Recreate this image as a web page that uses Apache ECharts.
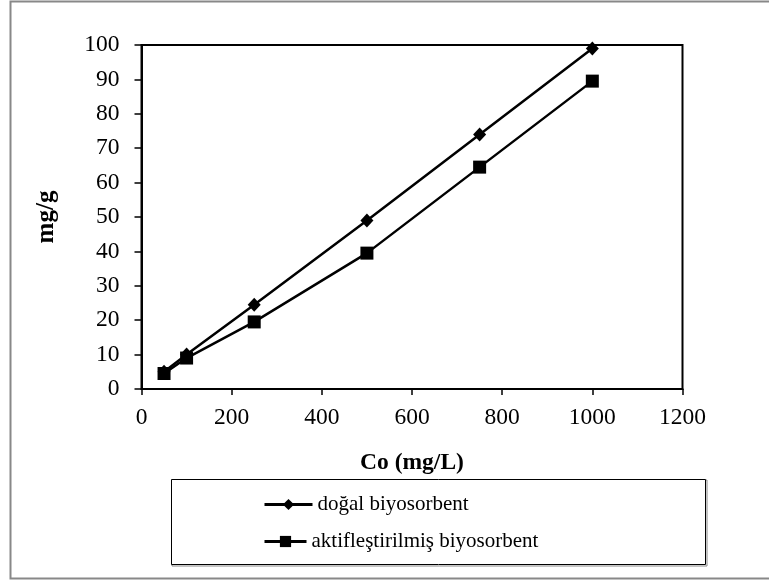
<!DOCTYPE html>
<html>
<head>
<meta charset="utf-8">
<script src="https://cdn.jsdelivr.net/npm/echarts@6/dist/echarts.min.js"></script>
<style>
  html, body { margin: 0; padding: 0; background: #fff; }
  #chart { width: 769px; height: 583px; }
</style>
</head>
<body>
<div id="chart"></div>
<script>
// Co (mg/L) on x, adsorbed amount mg/g on y
const coValues = [50, 100, 250, 500, 750, 1000];
const dogalValues = [5, 10, 24.5, 49, 74, 99];
const aktifValues = [4.5, 9, 19.5, 39.5, 64.5, 89.5];
const seriesNames = ['doğal biyosorbent', 'aktifleştirilmiş biyosorbent'];
const xTicks = { min: 0, max: 1200, step: 200 };
const yTicks = { min: 0, max: 100, step: 10 };

const FONT = '"Liberation Serif", "Times New Roman", serif';

const chart = echarts.init(document.getElementById('chart'));

const toPairs = (ys) => coValues.map((x, i) => [x, ys[i]]);

const option = {
  animation: false,
  backgroundColor: '#fff',
  textStyle: { fontFamily: FONT, color: '#000' },
  grid: {
    left: 141.5,
    right: 86.5,
    top: 45,
    bottom: 194,
    show: true,
    borderColor: '#000',
    borderWidth: 2,
    containLabel: false,
  },
  xAxis: {
    type: 'value',
    min: xTicks.min,
    max: xTicks.max,
    interval: xTicks.step,
    name: 'Co (mg/L)',
    nameLocation: 'middle',
    nameGap: 62,
    nameTextStyle: { fontFamily: FONT, fontWeight: 'bold', fontSize: 23.5, color: '#000' },
    axisLine: { show: true, lineStyle: { color: '#000', width: 2 } },
    axisTick: { show: true, inside: false, length: 6, lineStyle: { color: '#000', width: 1.5 } },
    axisLabel: { fontFamily: FONT, fontSize: 23.5, color: '#000', margin: 17, formatter: (v) => String(v) },
    splitLine: { show: false },
  },
  yAxis: {
    type: 'value',
    min: yTicks.min,
    max: yTicks.max,
    interval: yTicks.step,
    name: 'mg/g',
    nameLocation: 'middle',
    nameGap: 82,
    nameRotate: 90,
    nameTextStyle: { fontFamily: FONT, fontWeight: 'bold', fontSize: 25, color: '#000' },
    axisLine: { show: true, lineStyle: { color: '#000', width: 2 } },
    axisTick: { show: true, inside: false, length: 7, lineStyle: { color: '#000', width: 1.5 } },
    axisLabel: { fontFamily: FONT, fontSize: 23.5, color: '#000', margin: 22, formatter: (v) => String(v) },
    splitLine: { show: false },
  },
  legend: [
    {
      data: [seriesNames[0]],
      left: 258,
      top: 489,
      itemWidth: 48,
      itemHeight: 14,
      lineStyle: { width: 3 },
      textStyle: { fontFamily: FONT, fontSize: 21, color: '#000' },
      inactiveColor: '#000',
    },
    {
      data: [seriesNames[1]],
      left: 258,
      top: 526,
      itemWidth: 42,
      itemHeight: 14,
      lineStyle: { width: 3 },
      textStyle: { fontFamily: FONT, fontSize: 21, color: '#000' },
      inactiveColor: '#000',
    },
  ],
  graphic: [
    {
      type: 'rect',
      shape: { x: 10.5, y: 1.5, width: 800, height: 577 },
      style: { fill: 'none', stroke: '#888', lineWidth: 2 },
      z: -1,
    },
    {
      type: 'rect',
      shape: { x: 172, y: 480, width: 535, height: 86 },
      style: { fill: 'none', stroke: '#888', lineWidth: 1 },
      z: -1,
    },
    {
      type: 'rect',
      shape: { x: 171.5, y: 479.5, width: 534, height: 85 },
      style: { fill: '#fff', stroke: '#000', lineWidth: 1 },
      z: -1,
    },
  ],
  series: [
    {
      name: seriesNames[0],
      type: 'line',
      data: toPairs(dogalValues),
      symbol: 'diamond',
      symbolSize: [13, 14],
      lineStyle: { color: '#000', width: 2.5 },
      itemStyle: { color: '#000' },
      clip: false,
    },
    {
      name: seriesNames[1],
      type: 'line',
      data: toPairs(aktifValues),
      symbol: 'rect',
      symbolSize: 13,
      lineStyle: { color: '#000', width: 2.5 },
      itemStyle: { color: '#000' },
      clip: false,
    },
  ],
};

chart.setOption(option);
</script>
</body>
</html>
